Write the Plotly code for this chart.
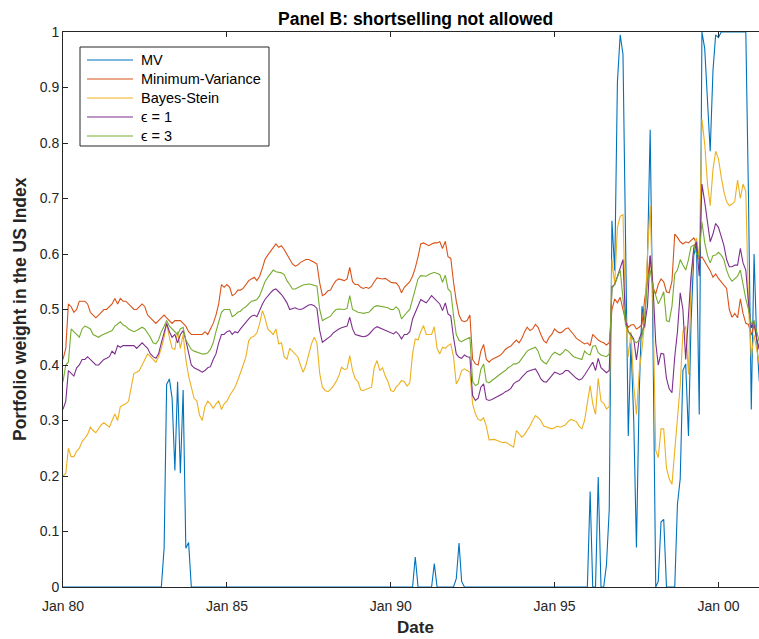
import pandas as pd
import plotly.graph_objects as go

# Monthly dates, Jan 1980 onwards
dates = pd.date_range("1980-01-01", periods=256, freq="MS")

mv = [0.0] * 36 + [
    0.0, 0.07, 0.365, 0.375, 0.34, 0.21, 0.37, 0.205, 0.355, 0.07, 0.08, 0.0,
] + [0.0] * 81 + [
    0.054, 0.0, 0.0, 0.0, 0.0, 0.0, 0.0, 0.042, 0.0, 0.0,
    0.0, 0.0, 0.0, 0.0, 0.0, 0.015, 0.079, 0.01, 0.0,
] + [0.0] * 45 + [
    0.172, 0.0, 0.0, 0.198, 0.0, 0.0, 0.04, 0.14,
    0.66, 0.57, 0.91, 0.995, 0.96, 0.60, 0.272, 0.44, 0.30,
    0.071, 0.35, 0.506, 0.467, 0.59, 0.824, 0.45, 0.0, 0.01, 0.117,
    0.122, 0.0, 0.0, 0.0, 0.0, 0.149, 0.195, 0.39, 0.402, 0.272,
    0.473, 0.597, 0.62, 0.311, 1.0, 0.97, 0.88, 0.785, 0.93, 0.995,
    0.99, 1.0, 1.0, 1.0, 1.0, 1.0, 1.0, 1.0, 1.0, 1.0,
    1.0, 0.70, 0.32, 0.60, 0.45, 0.37,
]

min_var = [
    0.41, 0.43, 0.51, 0.505, 0.495, 0.50, 0.515, 0.515, 0.515, 0.51,
    0.495, 0.49, 0.485, 0.49, 0.495, 0.50, 0.50, 0.505, 0.51, 0.52,
    0.51, 0.52, 0.515, 0.515, 0.51, 0.505, 0.50, 0.50, 0.505, 0.51,
    0.505, 0.49, 0.485, 0.48, 0.475, 0.48, 0.485, 0.49, 0.485, 0.48,
    0.475, 0.48, 0.48, 0.48, 0.475, 0.47, 0.46, 0.455, 0.455, 0.455,
    0.455, 0.455, 0.46, 0.455, 0.465, 0.475, 0.49, 0.51, 0.545, 0.54,
    0.545, 0.54, 0.525, 0.528, 0.535, 0.535, 0.538, 0.545, 0.552, 0.555,
    0.558, 0.552, 0.56, 0.575, 0.59, 0.598, 0.605, 0.612, 0.618, 0.612,
    0.615, 0.608, 0.60, 0.592, 0.582, 0.578, 0.58, 0.585, 0.588, 0.59,
    0.59, 0.588, 0.585, 0.582, 0.548, 0.525, 0.528, 0.534, 0.535, 0.545,
    0.552, 0.555, 0.553, 0.552, 0.555, 0.576, 0.55, 0.545, 0.545, 0.54,
    0.538, 0.54, 0.538, 0.542, 0.55, 0.557, 0.556, 0.555, 0.556, 0.553,
    0.549, 0.548, 0.548, 0.542, 0.53, 0.54, 0.545, 0.55, 0.56, 0.575,
    0.595, 0.618, 0.62, 0.618, 0.615, 0.618, 0.62, 0.62, 0.622, 0.61,
    0.623, 0.595, 0.592, 0.55, 0.515, 0.49, 0.48, 0.478, 0.48, 0.49,
    0.41, 0.402, 0.40, 0.425, 0.437, 0.41, 0.405, 0.41, 0.412, 0.415,
    0.417, 0.422, 0.428, 0.432, 0.434, 0.44, 0.445, 0.44, 0.448, 0.46,
    0.468, 0.462, 0.465, 0.473, 0.468, 0.455, 0.444, 0.44, 0.45, 0.455,
    0.465, 0.46, 0.458, 0.46, 0.465, 0.467, 0.462, 0.455, 0.448, 0.445,
    0.441, 0.438, 0.44, 0.435, 0.455, 0.45, 0.445, 0.442, 0.44, 0.436,
    0.44, 0.50, 0.519, 0.512, 0.522, 0.50, 0.48, 0.468, 0.472, 0.473,
    0.465, 0.468, 0.473, 0.519, 0.551, 0.597, 0.54, 0.528, 0.545, 0.555,
    0.55, 0.532, 0.53, 0.551, 0.636, 0.63, 0.622, 0.618, 0.622, 0.62,
    0.624, 0.629, 0.62, 0.59, 0.595, 0.587, 0.578, 0.57, 0.558, 0.564,
    0.556, 0.55, 0.545, 0.538, 0.50, 0.486, 0.493, 0.485, 0.519, 0.493,
    0.475, 0.473, 0.454, 0.473, 0.447, 0.428,
]

bayes_stein = [
    0.20, 0.205, 0.25, 0.235, 0.235, 0.245, 0.25, 0.262, 0.268, 0.275,
    0.288, 0.282, 0.278, 0.286, 0.292, 0.296, 0.292, 0.288, 0.30, 0.312,
    0.30, 0.325, 0.328, 0.33, 0.335, 0.36, 0.385, 0.387, 0.39, 0.40,
    0.41, 0.42, 0.415, 0.41, 0.405, 0.415, 0.43, 0.45, 0.475, 0.45,
    0.43, 0.428, 0.46, 0.43, 0.455, 0.41, 0.38, 0.36, 0.34, 0.335,
    0.31, 0.30, 0.325, 0.335, 0.33, 0.322, 0.33, 0.335, 0.32, 0.33,
    0.335, 0.345, 0.352, 0.36, 0.372, 0.385, 0.40, 0.415, 0.444, 0.45,
    0.452, 0.458, 0.475, 0.498, 0.485, 0.465, 0.46, 0.455, 0.465, 0.438,
    0.44, 0.415, 0.41, 0.43, 0.425, 0.42, 0.415, 0.40, 0.387, 0.40,
    0.42, 0.438, 0.45, 0.44, 0.385, 0.36, 0.354, 0.352, 0.356, 0.362,
    0.37, 0.38, 0.396, 0.392, 0.393, 0.417, 0.39, 0.375, 0.37, 0.355,
    0.354, 0.356, 0.358, 0.36, 0.396, 0.408, 0.39, 0.395, 0.38, 0.37,
    0.354, 0.352, 0.36, 0.365, 0.372, 0.37, 0.362, 0.368, 0.42, 0.447,
    0.445, 0.46, 0.471, 0.455, 0.455, 0.455, 0.469, 0.43, 0.42, 0.432,
    0.43, 0.435, 0.438, 0.415, 0.366, 0.375, 0.39, 0.393, 0.39, 0.387,
    0.33, 0.312, 0.302, 0.30, 0.305, 0.29, 0.265, 0.265, 0.266, 0.264,
    0.262, 0.26, 0.261, 0.258, 0.255, 0.252, 0.282, 0.275, 0.27, 0.275,
    0.282, 0.29, 0.30, 0.309, 0.305, 0.30, 0.29, 0.288, 0.287, 0.285,
    0.287, 0.29, 0.288, 0.29, 0.292, 0.298, 0.302, 0.30, 0.298, 0.29,
    0.285, 0.30, 0.33, 0.363, 0.33, 0.311, 0.376, 0.335, 0.331, 0.321,
    0.325, 0.59, 0.545, 0.648, 0.668, 0.671, 0.493, 0.415, 0.46, 0.363,
    0.311, 0.389, 0.428, 0.48, 0.60, 0.687, 0.512, 0.246, 0.233, 0.285,
    0.285, 0.214, 0.195, 0.185, 0.246, 0.311, 0.363, 0.46, 0.47, 0.383,
    0.545, 0.61, 0.629, 0.59, 0.843, 0.798, 0.726, 0.687, 0.752, 0.785,
    0.772, 0.739, 0.713, 0.694, 0.687, 0.69, 0.695, 0.733, 0.70, 0.726,
    0.713, 0.506, 0.415, 0.454, 0.428, 0.402,
]

eps1 = [
    0.32, 0.335, 0.39, 0.385, 0.38, 0.395, 0.40, 0.41, 0.41, 0.415,
    0.41, 0.405, 0.40, 0.40, 0.405, 0.41, 0.412, 0.415, 0.425, 0.42,
    0.435, 0.432, 0.435, 0.435, 0.434, 0.435, 0.435, 0.43, 0.435, 0.44,
    0.435, 0.43, 0.42, 0.415, 0.412, 0.42, 0.44, 0.46, 0.475, 0.46,
    0.45, 0.455, 0.44, 0.455, 0.462, 0.445, 0.42, 0.40, 0.395, 0.393,
    0.39, 0.387, 0.39, 0.395, 0.397, 0.41, 0.42, 0.44, 0.455, 0.455,
    0.46, 0.462, 0.455, 0.46, 0.458, 0.465, 0.471, 0.478, 0.483, 0.488,
    0.49, 0.487, 0.50, 0.51, 0.518, 0.525, 0.53, 0.535, 0.537, 0.532,
    0.527, 0.52, 0.512, 0.50, 0.502, 0.503, 0.501, 0.50, 0.502, 0.505,
    0.508, 0.509, 0.507, 0.502, 0.462, 0.441, 0.445, 0.448, 0.452, 0.458,
    0.462, 0.465, 0.467, 0.468, 0.47, 0.486, 0.465, 0.455, 0.453, 0.452,
    0.451, 0.452, 0.455, 0.46, 0.466, 0.469, 0.467, 0.465, 0.463, 0.46,
    0.458, 0.456, 0.46, 0.455, 0.447, 0.455, 0.455, 0.46, 0.483, 0.495,
    0.505, 0.518, 0.515, 0.512, 0.518, 0.525, 0.52, 0.515, 0.51, 0.498,
    0.512, 0.492, 0.488, 0.45, 0.42, 0.414, 0.412, 0.418, 0.415, 0.414,
    0.345, 0.336, 0.34, 0.36, 0.366, 0.338, 0.336, 0.338, 0.34, 0.343,
    0.345, 0.348, 0.352, 0.354, 0.358, 0.366, 0.37, 0.372, 0.378, 0.384,
    0.388, 0.39, 0.392, 0.393, 0.385, 0.375, 0.37, 0.369, 0.375, 0.38,
    0.387, 0.385, 0.383, 0.385, 0.39, 0.39, 0.385, 0.38, 0.376, 0.373,
    0.375, 0.382, 0.39, 0.396, 0.405, 0.39, 0.412, 0.395, 0.39, 0.386,
    0.39, 0.541, 0.545, 0.56, 0.574, 0.59, 0.48, 0.46, 0.455, 0.447,
    0.409, 0.447, 0.46, 0.473, 0.506, 0.597, 0.545, 0.44, 0.40, 0.421,
    0.42, 0.376, 0.357, 0.35, 0.415, 0.46, 0.53, 0.50, 0.41, 0.49,
    0.56, 0.61, 0.622, 0.56, 0.726, 0.694, 0.661, 0.622, 0.636, 0.655,
    0.648, 0.63, 0.616, 0.59, 0.577, 0.577, 0.58, 0.58, 0.61, 0.584,
    0.571, 0.512, 0.467, 0.48, 0.447, 0.428,
]

eps3 = [
    0.37, 0.40, 0.405, 0.465, 0.46, 0.455, 0.45, 0.465, 0.47, 0.468,
    0.465, 0.455, 0.452, 0.45, 0.453, 0.455, 0.458, 0.46, 0.462, 0.47,
    0.475, 0.478, 0.472, 0.47, 0.465, 0.462, 0.46, 0.462, 0.465, 0.468,
    0.465, 0.458, 0.45, 0.44, 0.438, 0.445, 0.46, 0.47, 0.48, 0.47,
    0.465, 0.46, 0.455, 0.465, 0.468, 0.445, 0.435, 0.428, 0.425, 0.423,
    0.422, 0.42, 0.42, 0.422, 0.428, 0.44, 0.46, 0.48, 0.495, 0.50,
    0.50, 0.50, 0.487, 0.49, 0.495, 0.497, 0.502, 0.505, 0.51, 0.515,
    0.516, 0.518, 0.525, 0.54, 0.55, 0.558, 0.565, 0.571, 0.568, 0.567,
    0.566, 0.563, 0.552, 0.545, 0.537, 0.537, 0.54, 0.542, 0.544, 0.545,
    0.546, 0.545, 0.544, 0.542, 0.50, 0.48, 0.483, 0.486, 0.488, 0.495,
    0.50, 0.501, 0.50, 0.50, 0.502, 0.525, 0.50, 0.497, 0.495, 0.494,
    0.493, 0.494, 0.495, 0.50, 0.505, 0.507, 0.506, 0.506, 0.505, 0.503,
    0.50, 0.50, 0.505, 0.50, 0.483, 0.49, 0.495, 0.50, 0.52, 0.54,
    0.555, 0.561, 0.56, 0.56, 0.563, 0.565, 0.567, 0.565, 0.563, 0.549,
    0.562, 0.537, 0.532, 0.49, 0.455, 0.444, 0.442, 0.445, 0.447, 0.45,
    0.37, 0.363, 0.366, 0.392, 0.402, 0.37, 0.368, 0.372, 0.375, 0.38,
    0.383, 0.387, 0.39, 0.395, 0.398, 0.402, 0.402, 0.405, 0.412, 0.42,
    0.425, 0.428, 0.43, 0.432, 0.425, 0.41, 0.405, 0.402, 0.41, 0.418,
    0.423, 0.42, 0.418, 0.422, 0.428, 0.425, 0.42, 0.415, 0.413, 0.412,
    0.41, 0.425, 0.42, 0.418, 0.434, 0.435, 0.422, 0.418, 0.416, 0.415,
    0.42, 0.538, 0.545, 0.558, 0.571, 0.52, 0.473, 0.46, 0.452, 0.444,
    0.44, 0.445, 0.45, 0.486, 0.551, 0.571, 0.54, 0.525, 0.51, 0.52,
    0.532, 0.48, 0.478, 0.506, 0.564, 0.571, 0.59, 0.58, 0.571, 0.59,
    0.613, 0.616, 0.60, 0.597, 0.658, 0.62, 0.597, 0.584, 0.597, 0.598,
    0.603, 0.598, 0.59, 0.571, 0.558, 0.551, 0.555, 0.56, 0.571, 0.545,
    0.519, 0.50, 0.473, 0.48, 0.46, 0.441,
]

series_names = ["MV", "Minimum-Variance", "Bayes-Stein", "ϵ = 1", "ϵ = 3"]
series_values = [mv, min_var, bayes_stein, eps1, eps3]
series_colors = ["#0072BD", "#D95319", "#EDB120", "#7E2F8E", "#77AC30"]

tick_dates = ["1980-01-01", "1985-01-01", "1990-01-01", "1995-01-01", "2000-01-01"]
tick_labels = ["Jan 80", "Jan 85", "Jan 90", "Jan 95", "Jan 00"]

FONT = "Liberation Sans, Arial, Helvetica, sans-serif"
AX = "#262626"

# plot-area geometry in pixels
W, H = 759, 639
L, R, T, B = 63, 759, 32, 587


def px2x(px):
    return (px - L) / (R - L)


def px2y(py):
    return (B - py) / (B - T)


fig = go.Figure()
for name, vals, col in zip(series_names, series_values, series_colors):
    fig.add_trace(go.Scatter(
        x=dates[:len(vals)], y=vals, mode="lines", name=name,
        line=dict(color=col, width=1.1), showlegend=False,
    ))

shapes = [dict(type="rect", xref="paper", yref="paper",
               x0=px2x(80), x1=px2x(269), y0=px2y(146), y1=px2y(47),
               line=dict(color=AX, width=1), fillcolor="white", layer="above")]
annotations = []
for i, (name, col) in enumerate(zip(series_names, series_colors)):
    yy = 60 + i * 19
    shapes.append(dict(type="line", xref="paper", yref="paper",
                       x0=px2x(87), x1=px2x(133), y0=px2y(yy), y1=px2y(yy),
                       line=dict(color=col, width=1.1), layer="above"))
    annotations.append(dict(text=name, xref="paper", yref="paper",
                            x=px2x(139), y=px2y(yy), xanchor="left", yanchor="middle",
                            showarrow=False, font=dict(size=14.5, color="#000000")))

annotations += [
    dict(text="<b>Panel B: shortselling not allowed</b>", xref="paper", yref="paper",
         x=px2x(415), y=px2y(19), xanchor="center", yanchor="middle",
         showarrow=False, font=dict(size=17.5, color="#000000")),
    dict(text="<b>Date</b>", xref="paper", yref="paper",
         x=px2x(415), y=px2y(627), xanchor="center", yanchor="middle",
         showarrow=False, font=dict(size=17, color=AX)),
    dict(text="<b>Portfolio weight in the US Index</b>", xref="paper", yref="paper",
         x=px2x(20), y=px2y(309), xanchor="center", yanchor="middle", textangle=-90,
         showarrow=False, font=dict(size=17.5, color=AX)),
]

fig.update_layout(
    width=W, height=H,
    margin=dict(l=L, r=W - R, t=T, b=H - B, autoexpand=False),
    paper_bgcolor="white", plot_bgcolor="white",
    font=dict(family=FONT, size=14, color=AX),
    showlegend=False,
    shapes=shapes, annotations=annotations,
    xaxis=dict(
        range=["1980-01-01", "2001-03-28"],
        tickmode="array", tickvals=tick_dates, ticktext=tick_labels,
        ticks="inside", ticklen=5, tickcolor=AX, tickwidth=1,
        showline=True, linecolor=AX, linewidth=1, mirror="ticks",
        showgrid=False, zeroline=False, automargin=False,
        ticklabelstandoff=6,
        tickfont=dict(size=14, color=AX),
    ),
    yaxis=dict(
        range=[0, 1], dtick=0.1, tick0=0,
        ticks="inside", ticklen=5, tickcolor=AX, tickwidth=1,
        showline=True, linecolor=AX, linewidth=1, mirror=False,
        showgrid=False, zeroline=False, automargin=False,
        tickfont=dict(size=14, color=AX),
    ),
)

fig.write_html(
    "out.html",
    config={"displayModeBar": False},
    post_script="document.body.style.margin='0';document.body.style.overflow='hidden';",
)
